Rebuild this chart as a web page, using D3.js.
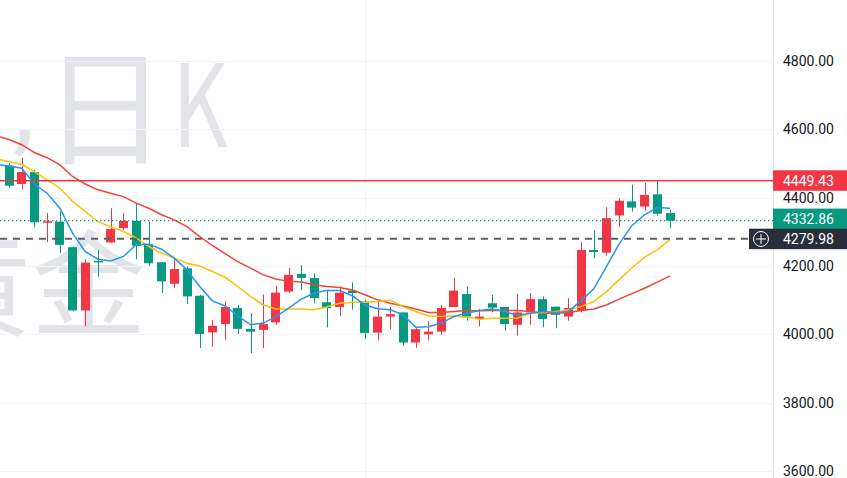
<!DOCTYPE html>
<html>
<head>
<meta charset="utf-8">
<script src="https://cdn.jsdelivr.net/npm/d3@7"></script>
<style>
  body { margin: 0; background: #fff; }
  svg { display: block; font-family: Roboto, "Noto Sans", sans-serif; }
</style>
</head>
<body>
<svg id="canvas" width="847" height="478"></svg>
<script>
// day index 0 is the session just off the left edge (only its moving averages show)
var days = d3.range(0, 54);

var open = [null, 4494, 4440, 4475, 4328, 4330, 4255, 4070, 4215, 4269, 4311,
  4332, 4264, 4211, 4148, 4193, 4113, 4006, 4030, 4077, 4016,
  4013, 4035, 4125, 4177, 4165, 4094, 4080, 4128, 4096, 4005,
  4052, 4064, 3976, 4000, 4008, 4080, 4118, 4045, 4091, 4080,
  4028, 4064, 4103, 4081, 4052, 4070, 4247, 4239, 4348, 4389,
  4374, 4410, 4355];
var high = [null, 4502, 4516, 4481, 4355, 4359, 4257, 4220, 4247, 4369, 4355,
  4382, 4330, 4211, 4220, 4198, 4116, 4042, 4096, 4086, 4062,
  4116, 4142, 4194, 4203, 4179, 4130, 4140, 4152, 4101, 4096,
  4080, 4064, 4018, 4038, 4086, 4165, 4140, 4074, 4116, 4080,
  4118, 4121, 4111, 4081, 4106, 4269, 4304, 4372, 4399, 4438,
  4443, 4449.43, 4364];
var low = [null, 4429, 4425, 4313, 4270, 4238, 4067, 4023, 4169, 4267, 4306,
  4220, 4201, 4121, 4135, 4089, 3960, 3964, 3984, 4001, 3945,
  3960, 4028, 4121, 4130, 4091, 4021, 4054, 4072, 3986, 3982,
  4015, 3966, 3960, 3982, 3999, 4080, 4040, 4023, 4064, 4011,
  3996, 4028, 4021, 4018, 4040, 4064, 4223, 4230, 4314, 4359,
  4362, 4348, 4311];
var close = [null, 4435, 4475, 4328, 4331, 4262, 4070, 4210, 4213, 4308, 4332,
  4259, 4208, 4155, 4191, 4111, 4001, 4025, 4080, 4016, 4008,
  4030, 4122, 4174, 4165, 4106, 4077, 4122, 4121, 4004, 4052,
  4059, 3976, 4015, 4008, 4077, 4128, 4052, 4052, 4078, 4030,
  4064, 4103, 4045, 4057, 4077, 4247, 4241, 4340, 4391, 4371,
  4408, 4353, 4332.86];

var ma5 = [4497, 4493, 4486, 4440, 4413, 4369, 4296, 4242, 4220, 4215, 4228,
  4262, 4264, 4249, 4223, 4189, 4140, 4098, 4083, 4054, 4028,
  4033, 4052, 4077, 4103, 4121, 4128, 4128, 4113, 4086, 4075,
  4072, 4057, 4021, 4022, 4033, 4052, 4062, 4070, 4074, 4067,
  4055, 4062, 4067, 4064, 4067, 4098, 4133, 4198, 4265, 4318,
  4350, 4371, 4369];
var ma10 = [4514, 4505, 4497, 4476, 4452, 4428, 4389, 4359, 4330, 4315, 4301,
  4282, 4257, 4238, 4223, 4208, 4200, 4184, 4167, 4140, 4111,
  4086, 4074, 4074, 4074, 4072, 4080, 4091, 4094, 4094, 4096,
  4100, 4081, 4067, 4054, 4052, 4054, 4050, 4044, 4047, 4047,
  4047, 4062, 4064, 4067, 4072, 4081, 4096, 4125, 4160, 4194,
  4226, 4247, 4277];
var ma20 = [4581, 4570, 4555, 4532, 4517, 4496, 4462, 4440, 4423, 4413, 4403,
  4384, 4369, 4350, 4335, 4315, 4286, 4260, 4236, 4213, 4194,
  4174, 4162, 4155, 4153, 4145, 4140, 4137, 4130, 4116, 4101,
  4091, 4083, 4074, 4064, 4064, 4067, 4070, 4069, 4070, 4070,
  4070, 4067, 4062, 4062, 4064, 4070, 4074, 4086, 4103, 4119,
  4135, 4153, 4171];

var priceTicks = [3600, 3800, 4000, 4200, 4400, 4600, 4800];
var highLine = 4449.43;
var lastPrice = 4332.86;
var crossPrice = 4279.98;
var gridDays = [29];

var svg = d3.select("#canvas"),
  width = +svg.attr("width"),
  height = +svg.attr("height"),
  plotW = 773;

var x = d3.scaleLinear().domain([1, 53]).range([9, 670]);
var y = d3.scaleLinear().domain([3600, 4800]).range([471, 61]);
var step = x(2) - x(1),
  bodyW = step * 0.7;

var up = "#f23645", down = "#089981";

svg.append("clipPath").attr("id", "plot")
  .append("rect").attr("width", plotW).attr("height", height);

// watermark (symbol line is cut by the left edge, like the original)
var wm = svg.append("g")
  .attr("fill", "#e3e4e8")
  .attr("font-family", "'Noto Sans CJK SC', sans-serif");
wm.append("text").attr("x", 2).attr("y", 147)
  .attr("font-family", "Roboto, sans-serif")
  .attr("font-size", 112).attr("text-anchor", "end").text("AU9999");
wm.append("text").attr("x", 13).attr("y", 141)
  .attr("font-family", "Roboto, sans-serif")
  .attr("font-size", 110).text(",");
wm.append("text")
  .attr("transform", "translate(105,155) scale(0.98,1)")
  .attr("font-size", 126).attr("text-anchor", "middle").text("日");
wm.append("text")
  .attr("transform", "translate(200,147) scale(0.75,1)")
  .attr("font-size", 115).attr("text-anchor", "middle").text("K");
wm.append("text").attr("x", 146).attr("y", 327)
  .attr("font-size", 115).attr("text-anchor", "end").text("黄金");

// grid
svg.append("g").selectAll("line")
  .data(priceTicks).enter().append("line")
  .attr("x1", 0).attr("x2", plotW)
  .attr("y1", function(d) { return Math.round(y(d)) + 0.5; })
  .attr("y2", function(d) { return Math.round(y(d)) + 0.5; })
  .attr("stroke", "#f0f3fa");
svg.append("g").selectAll("line")
  .data(gridDays).enter().append("line")
  .attr("x1", function(d) { return Math.round(x(d)) + 0.5; })
  .attr("x2", function(d) { return Math.round(x(d)) + 0.5; })
  .attr("y1", 0).attr("y2", height)
  .attr("stroke", "#f0f3fa");

var plot = svg.append("g").attr("clip-path", "url(#plot)");

// candles
var bars = days.filter(function(i) { return open[i] != null; });
var candle = plot.append("g").selectAll("g")
  .data(bars).enter().append("g")
  .attr("fill", function(i) { return close[i] >= open[i] ? up : down; })
  .attr("stroke", function(i) { return close[i] >= open[i] ? up : down; });

candle.append("line")
  .attr("x1", function(i) { return Math.round(x(i)) + 0.5; })
  .attr("x2", function(i) { return Math.round(x(i)) + 0.5; })
  .attr("y1", function(i) { return y(high[i]); })
  .attr("y2", function(i) { return y(low[i]); })
  .attr("stroke-width", 1);

candle.append("rect")
  .attr("stroke", "none")
  .attr("x", function(i) { return Math.round(x(i) - bodyW / 2); })
  .attr("width", Math.round(bodyW))
  .attr("y", function(i) { return y(Math.max(open[i], close[i])); })
  .attr("height", function(i) {
    return Math.max(1.5, y(Math.min(open[i], close[i])) - y(Math.max(open[i], close[i])));
  });

// moving averages
var mas = [[ma20, "#f44336"], [ma10, "#ffc107"], [ma5, "#2196f3"]];
mas.forEach(function(m) {
  var line = d3.line()
    .x(function(i) { return x(i); })
    .y(function(i) { return y(m[0][i]); });
  plot.append("path")
    .attr("d", line(days))
    .attr("fill", "none")
    .attr("stroke", m[1])
    .attr("stroke-width", 1.5);
});

// price lines
plot.append("line")
  .attr("x1", 0).attr("x2", plotW)
  .attr("y1", y(highLine)).attr("y2", y(highLine))
  .attr("stroke", up).attr("stroke-width", 1.5);
plot.append("line")
  .attr("x1", 0).attr("x2", plotW)
  .attr("y1", y(lastPrice)).attr("y2", y(lastPrice))
  .attr("stroke", down).attr("stroke-width", 1.3)
  .attr("stroke-dasharray", "1.3,2.7");
plot.append("line")
  .attr("x1", 0).attr("x2", plotW)
  .attr("y1", y(crossPrice)).attr("y2", y(crossPrice))
  .attr("stroke", "#5d606b").attr("stroke-width", 2)
  .attr("stroke-dasharray", "7,6");

// price axis
svg.append("line")
  .attr("x1", plotW + 0.5).attr("x2", plotW + 0.5)
  .attr("y1", 0).attr("y2", height)
  .attr("stroke", "#e0e3eb");

var axis = svg.append("g")
  .attr("transform", "translate(" + plotW + ",0)")
  .call(d3.axisRight(y).tickValues(priceTicks).tickFormat(d3.format(".2f"))
    .tickSize(0).tickPadding(10));
axis.select(".domain").remove();
axis.selectAll("text")
  .attr("font-family", "Roboto, sans-serif")
  .attr("font-size", 14)
  .attr("fill", "#131722");

var fmt = d3.format(".2f");
function tag(v, top, bg) {
  var g = svg.append("g");
  g.append("rect")
    .attr("x", plotW).attr("y", top)
    .attr("width", width - plotW).attr("height", 20.5)
    .attr("fill", bg);
  g.append("text")
    .attr("x", plotW + 10).attr("y", top + 10.5)
    .attr("dy", "0.35em")
    .attr("font-size", 14)
    .attr("fill", "#fff")
    .text(fmt(v));
  return g;
}
tag(highLine, y(highLine) - 10.5, up);
tag(lastPrice, y(lastPrice) - 12, down);
tag(crossPrice, y(crossPrice) - 10, "#2a2e39");

// crosshair button next to its label
var cy = y(crossPrice);
svg.append("rect")
  .attr("x", plotW - 24).attr("y", cy - 10)
  .attr("width", 24).attr("height", 20.5)
  .attr("fill", "#2a2e39");
svg.append("circle")
  .attr("cx", plotW - 12).attr("cy", cy + 0.3).attr("r", 7.5)
  .attr("fill", "none").attr("stroke", "#fff").attr("stroke-width", 1);
svg.append("path")
  .attr("d", "M" + (plotW - 17) + "," + (cy + 0.3) + "h10M" + (plotW - 12) + "," + (cy - 4.7) + "v10")
  .attr("stroke", "#fff").attr("stroke-width", 1);
</script>
</body>
</html>
